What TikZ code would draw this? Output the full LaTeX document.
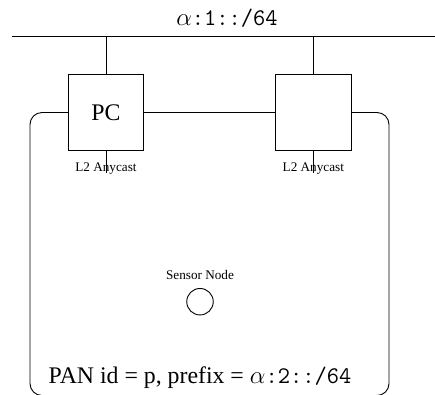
\documentclass[tikz,border=0pt]{standalone}
\usepackage{fontspec}
\setmainfont{Liberation Serif}
\begin{document}
\begin{tikzpicture}[x=1pt,y=-1pt,line width=0.9pt,
  bigtxt/.style={font=\fontsize{23.8}{26}\selectfont},
  smalltxt/.style={font=\fontsize{13.2}{15}\selectfont},
  router/.style={draw,minimum width=75.5pt,minimum height=75.5pt,inner sep=0pt,bigtxt}]
\useasboundingbox (0,0) rectangle (435,394);
\clip (0,0) rectangle (435,394);
\coordinate (busL) at (11.5,36.7);
\coordinate (busR) at (436,36.7);
\draw (busL) -- (busR);
\node[bigtxt] (buslabel) at (227,18) {$\alpha$\texttt{:1::/64}};
\node[router] (pc) at (106,112.5) {PC};
\node[router] (r2) at (313.3,112.5) {};
\draw (pc.north) -- (pc.north |- busL);
\draw (r2.north) -- (r2.north |- busL);
\draw (pc.east) -- (r2.west);
\node[smalltxt] (l1) at (106,168.5) {L2 Anycast};
\node[smalltxt] (l2) at (313.3,168.5) {L2 Anycast};
\draw (pc.south) -- ++(0,22);
\draw (r2.south) -- ++(0,22);
\draw[rounded corners=12pt] (pc.west) -- (30,112.5) -- (30,395.5) -- (389,395.5) -- (389,112.5) -- (r2.east);
\node[smalltxt] (slabel) at (200,275) {Sensor Node};
\node[draw,circle,minimum size=26.5pt,inner sep=0pt] (sensor) at (200,301.7) {};
\node[bigtxt] (pan) at (200,378) {PAN id = p, prefix = $\alpha$\texttt{:2::/64}};
\end{tikzpicture}
\end{document}
